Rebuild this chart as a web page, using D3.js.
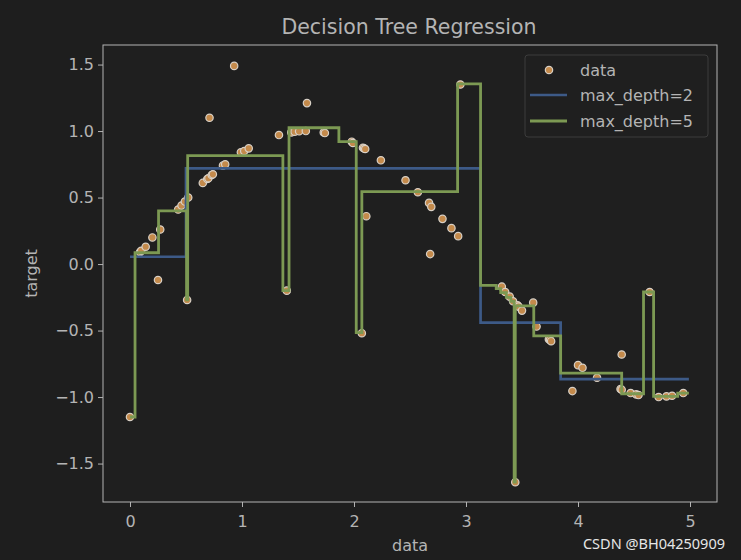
<!DOCTYPE html>
<html>
<head>
<meta charset="utf-8">
<script src="https://cdn.jsdelivr.net/npm/d3@7"></script>
<style>
  body { margin: 0; background: #1e1e1e; }
  text { font-family: "DejaVu Sans", sans-serif; }
</style>
</head>
<body>
<div id="chart"></div>
<script>
// scatter points
var dataX = [0.00, 0.09, 0.10, 0.14, 0.20, 0.25, 0.27, 0.43, 0.46, 0.49,
             0.51, 0.52, 0.65, 0.69, 0.70, 0.71, 0.73, 0.74, 0.83, 0.85,
             0.93, 0.99, 1.02, 1.06, 1.33, 1.40, 1.44, 1.47, 1.51, 1.57,
             1.58, 1.73, 1.74, 1.98, 1.99, 2.07, 2.08, 2.09, 2.10, 2.11,
             2.24, 2.46, 2.57, 2.67, 2.68, 2.69, 2.79, 2.87, 2.93, 2.95,
             3.32, 3.35, 3.39, 3.42, 3.44, 3.46, 3.47, 3.50, 3.60, 3.63,
             3.74, 3.75, 3.76, 3.95, 4.00, 4.04, 4.17, 4.38, 4.39, 4.39,
             4.47, 4.52, 4.54, 4.64, 4.72, 4.79, 4.84, 4.94];
var dataY = [-1.15, 0.09, 0.10, 0.13, 0.20, -0.12, 0.26, 0.41, 0.44, 0.47,
             -0.27, 0.50, 0.61, 0.64, 0.645, 1.10, 0.67, 0.675, 0.74, 0.75,
             1.49, 0.84, 0.85, 0.87, 0.97, -0.20, 0.99, 0.995, 0.998, 1.00,
             1.21, 0.99, 0.985, 0.92, 0.91, -0.52, 0.875, 0.87, 0.865, 0.36,
             0.78, 0.63, 0.54, 0.46, 0.075, 0.43, 0.34, 0.27, 0.21, 1.35,
             -0.17, -0.21, -0.245, -0.28, -1.64, -0.31, -0.32, -0.35, -0.29, -0.47,
             -0.565, -0.57, -0.58, -0.955, -0.76, -0.78, -0.855, -0.94, -0.68, -0.945,
             -0.97, -0.98, -0.985, -0.21, -1.00, -0.995, -0.99, -0.97];

// tree predictions: segment start x and level, last x closes the line
var depth2Edges = [0, 0.50, 3.13, 3.845, 4.99];
var depth2Values = [0.055, 0.72, -0.44, -0.865];

var depth5Edges = [0, 0.045, 0.255, 0.505, 0.515, 1.365, 1.42, 1.865, 2.02, 2.07,
                   2.925, 3.13, 3.27, 3.31, 3.36, 3.40, 3.43, 3.44, 3.605, 3.845,
                   4.39, 4.585, 4.675, 4.89, 4.99];
var depth5Values = [-1.15, 0.085, 0.40, -0.27, 0.815, -0.20, 1.025, 0.92, -0.515, 0.545,
                    1.355, -0.16, -0.185, -0.215, -0.25, -0.28, -1.64, -0.315, -0.54, -0.82,
                    -0.975, -0.21, -0.995, -0.97];

var xTicks = [0, 1, 2, 3, 4, 5];
var yTicks = [-1.5, -1.0, -0.5, 0.0, 0.5, 1.0, 1.5];

var width = 741,
    height = 560,
    plotLeft = 103, plotRight = 717, plotTop = 45, plotBottom = 502;

var textColor = "#b4b4b4",
    blue = "#3d5a87",
    green = "#7c9953";

var svg = d3.select("#chart").append("svg")
    .attr("width", width)
    .attr("height", height)
    .style("background", "#1e1e1e");

var x = d3.scaleLinear().domain([-0.241, 5.241]).range([plotLeft, plotRight]);
var y = d3.scaleLinear().domain([-1.789, 1.647]).range([plotBottom, plotTop]);

svg.append("rect")
    .attr("x", plotLeft).attr("y", plotTop)
    .attr("width", plotRight - plotLeft).attr("height", plotBottom - plotTop)
    .attr("fill", "#1f1f1f");

function steps(edges, values) {
  var pts = values.map(function(v, i) { return [edges[i], v]; });
  pts.push([edges[edges.length - 1], values[values.length - 1]]);
  return pts;
}

var line = d3.line()
    .x(function(d) { return x(d[0]); })
    .y(function(d) { return y(d[1]); })
    .curve(d3.curveStepAfter);

var points = dataX.map(function(d, i) { return [d, dataY[i]]; });

svg.selectAll("circle.pt")
    .data(points)
    .enter().append("circle")
      .attr("class", "pt")
      .attr("cx", function(d) { return x(d[0]); })
      .attr("cy", function(d) { return y(d[1]); })
      .attr("r", 3.7)
      .attr("fill", "#c48a4b")
      .attr("stroke", "#d8d0c6")
      .attr("stroke-width", 1.2);

svg.append("path")
    .attr("d", line(steps(depth2Edges, depth2Values)))
    .attr("fill", "none")
    .attr("stroke", blue)
    .attr("stroke-width", 2.7);

svg.append("path")
    .attr("d", line(steps(depth5Edges, depth5Values)))
    .attr("fill", "none")
    .attr("stroke", green)
    .attr("stroke-width", 2.8);

// axes
var xAxis = svg.append("g")
    .attr("transform", "translate(0," + plotBottom + ")")
    .call(d3.axisBottom(x).tickValues(xTicks).tickFormat(d3.format("d")).tickSize(5).tickSizeOuter(0));
var yAxis = svg.append("g")
    .attr("transform", "translate(" + plotLeft + ",0)")
    .call(d3.axisLeft(y).tickValues(yTicks).tickFormat(d3.format(".1f")).tickSize(5).tickSizeOuter(0));

[xAxis, yAxis].forEach(function(g) {
  g.select(".domain").remove();
  g.selectAll(".tick line").attr("stroke", textColor).attr("stroke-width", 1);
  g.selectAll(".tick text")
      .attr("fill", textColor)
      .style("font-size", "16px");
});
xAxis.selectAll(".tick text").attr("dy", "1.05em");
yAxis.selectAll(".tick text").attr("x", -9);

svg.append("rect")
    .attr("x", plotLeft).attr("y", plotTop)
    .attr("width", plotRight - plotLeft).attr("height", plotBottom - plotTop)
    .attr("fill", "none")
    .attr("stroke", textColor)
    .attr("stroke-width", 1);

svg.append("text")
    .attr("x", (plotLeft + plotRight) / 2 - 1).attr("y", 34)
    .attr("text-anchor", "middle")
    .attr("fill", textColor)
    .style("font-size", "20.5px")
    .text("Decision Tree Regression");

svg.append("text")
    .attr("x", (plotLeft + plotRight) / 2).attr("y", 551)
    .attr("text-anchor", "middle")
    .attr("fill", textColor)
    .style("font-size", "16px")
    .text("data");

svg.append("text")
    .attr("transform", "translate(37," + (plotTop + plotBottom) / 2 + ") rotate(-90)")
    .attr("text-anchor", "middle")
    .attr("fill", textColor)
    .style("font-size", "16px")
    .text("target");

// legend
var legend = svg.append("g");
legend.append("rect")
    .attr("x", 525).attr("y", 55)
    .attr("width", 183).attr("height", 82)
    .attr("rx", 3)
    .attr("fill", "#1f1f1f")
    .attr("fill-opacity", 0.8)
    .attr("stroke", "#3c3c3c");
legend.append("circle")
    .attr("cx", 549).attr("cy", 70).attr("r", 3.7)
    .attr("fill", "#c48a4b").attr("stroke", "#d8d0c6").attr("stroke-width", 1.2);
legend.append("line")
    .attr("x1", 530).attr("x2", 567).attr("y1", 95).attr("y2", 95)
    .attr("stroke", blue).attr("stroke-width", 2.7);
legend.append("line")
    .attr("x1", 530).attr("x2", 567).attr("y1", 121).attr("y2", 121)
    .attr("stroke", green).attr("stroke-width", 2.8);
legend.selectAll("text")
    .data(["data", "max_depth=2", "max_depth=5"])
    .enter().append("text")
      .attr("x", 580)
      .attr("y", function(d, i) { return 75.5 + i * 25.8; })
      .attr("fill", textColor)
      .style("font-size", "16px")
      .text(function(d) { return d; });

// watermark
svg.append("text")
    .attr("x", 725).attr("y", 549)
    .attr("text-anchor", "end")
    .attr("fill", "#e6e6e6")
    .style("font-family", "'Noto Sans', sans-serif")
    .style("font-size", "14.5px")
    .text("CSDN @BH04250909");
</script>
</body>
</html>
